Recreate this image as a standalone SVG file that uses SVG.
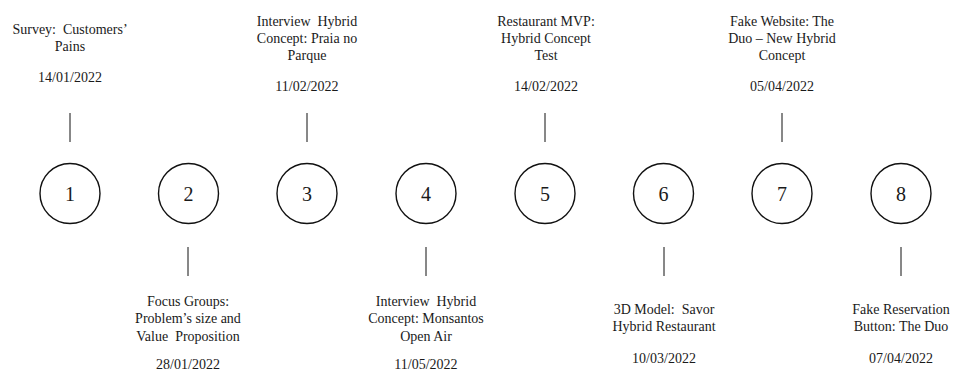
<svg xmlns="http://www.w3.org/2000/svg" width="954" height="372" viewBox="0 0 954 372">
<style>
  .lbl { font-size: 14px; }
  .num { font-size: 20px; }
  .node circle { fill: #ffffff; stroke: #111111; stroke-width: 1.4; }
  .tick { stroke: #111111; stroke-width: 1; }
</style>
<rect width="954" height="372" fill="#ffffff"/>
<g id="connectors">
  <line class="tick" x1="70" y1="113" x2="70" y2="142"/>
  <line class="tick" x1="307" y1="113" x2="307" y2="142"/>
  <line class="tick" x1="545" y1="113" x2="545" y2="142"/>
  <line class="tick" x1="782" y1="113" x2="782" y2="142"/>
  <line class="tick" x1="188" y1="247" x2="188" y2="276"/>
  <line class="tick" x1="426" y1="247" x2="426" y2="276"/>
  <line class="tick" x1="664" y1="247" x2="664" y2="276"/>
  <line class="tick" x1="901" y1="247" x2="901" y2="276"/>
</g>
<g font-family="'Liberation Serif', 'DejaVu Serif', serif" fill="#1a1a1a" text-anchor="middle">
<g id="node1" class="node">
  <circle cx="70" cy="193.5" r="30"/>
  <text class="num" x="70" y="201">1</text>
  <text class="lbl" x="70" y="34" xml:space="preserve">Survey:  Customers’</text>
  <text class="lbl" x="70" y="51">Pains</text>
  <text class="lbl" x="70" y="82">14/01/2022</text>
</g>
<g id="node2" class="node">
  <circle cx="188.5" cy="193.5" r="30"/>
  <text class="num" x="188.5" y="201">2</text>
  <text class="lbl" x="188" y="306">Focus Groups:</text>
  <text class="lbl" x="188" y="323">Problem’s size and</text>
  <text class="lbl" x="188" y="341" xml:space="preserve">Value  Proposition</text>
  <text class="lbl" x="188" y="369">28/01/2022</text>
</g>
<g id="node3" class="node">
  <circle cx="307" cy="193.5" r="30"/>
  <text class="num" x="307" y="201">3</text>
  <text class="lbl" x="307" y="26" xml:space="preserve">Interview  Hybrid</text>
  <text class="lbl" x="307" y="43">Concept: Praia no</text>
  <text class="lbl" x="307" y="60">Parque</text>
  <text class="lbl" x="307" y="91">11/02/2022</text>
</g>
<g id="node4" class="node">
  <circle cx="426" cy="193.5" r="30"/>
  <text class="num" x="426" y="201">4</text>
  <text class="lbl" x="426" y="306" xml:space="preserve">Interview  Hybrid</text>
  <text class="lbl" x="426" y="323">Concept: Monsantos</text>
  <text class="lbl" x="426" y="341">Open Air</text>
  <text class="lbl" x="426" y="369">11/05/2022</text>
</g>
<g id="node5" class="node">
  <circle cx="545" cy="193.5" r="30"/>
  <text class="num" x="545" y="201">5</text>
  <text class="lbl" x="546" y="26">Restaurant MVP:</text>
  <text class="lbl" x="546" y="43">Hybrid Concept</text>
  <text class="lbl" x="546" y="60">Test</text>
  <text class="lbl" x="546" y="91">14/02/2022</text>
</g>
<g id="node6" class="node">
  <circle cx="663.5" cy="193.5" r="30"/>
  <text class="num" x="663.5" y="201">6</text>
  <text class="lbl" x="664" y="314" xml:space="preserve">3D Model:  Savor</text>
  <text class="lbl" x="664" y="331">Hybrid Restaurant</text>
  <text class="lbl" x="664" y="363">10/03/2022</text>
</g>
<g id="node7" class="node">
  <circle cx="782" cy="193.5" r="30"/>
  <text class="num" x="782" y="201">7</text>
  <text class="lbl" x="782" y="26">Fake Website: The</text>
  <text class="lbl" x="782" y="43">Duo – New Hybrid</text>
  <text class="lbl" x="782" y="60">Concept</text>
  <text class="lbl" x="782" y="91">05/04/2022</text>
</g>
<g id="node8" class="node">
  <circle cx="901" cy="193.5" r="30"/>
  <text class="num" x="901" y="201">8</text>
  <text class="lbl" x="901" y="314">Fake Reservation</text>
  <text class="lbl" x="901" y="331">Button: The Duo</text>
  <text class="lbl" x="901" y="363">07/04/2022</text>
</g>
</g>
</svg>
